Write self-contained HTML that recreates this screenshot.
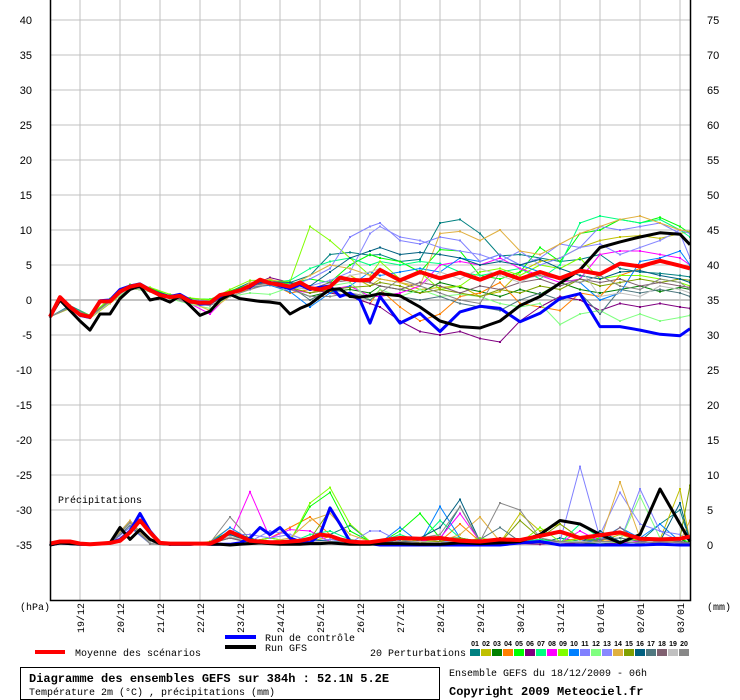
<!DOCTYPE html>
<html><head><meta charset="utf-8"><style>
body{margin:0;background:#fff;width:740px;height:700px;overflow:hidden}
svg{display:block}
text{font-family:"Liberation Sans",sans-serif}
.m{font-family:"Liberation Mono",monospace}
</style></head><body>
<svg id="c" width="740" height="700" viewBox="0 0 740 700" xmlns="http://www.w3.org/2000/svg">
<g id="grid"></g>
<g id="series"></g>
<g id="axes"></g>
<text x="58" y="503" font-size="10" class="m">Précipitations</text>
<text x="20" y="610" font-size="10" class="m">(hPa)</text>
<text x="707" y="610" font-size="10" class="m">(mm)</text>
<g>
<line x1="35" y1="652" x2="65" y2="652" stroke="#f00" stroke-width="4"/>
<text x="75" y="656" font-size="10" class="m">Moyenne des scénarios</text>
<line x1="225" y1="637" x2="256" y2="637" stroke="#00f" stroke-width="4"/>
<text x="265" y="641" font-size="10" class="m">Run de contrôle</text>
<line x1="225" y1="647" x2="256" y2="647" stroke="#000" stroke-width="4"/>
<text x="265" y="651" font-size="10" class="m">Run GFS</text>
<text x="370" y="656" font-size="10" class="m">20 Perturbations</text>
<g id="sw"></g>
</g>
<rect x="20.5" y="667.5" width="419" height="32" fill="none" stroke="#000"/>
<text x="29" y="682" font-size="12" font-weight="bold" class="m">Diagramme des ensembles GEFS sur 384h : 52.1N 5.2E</text>
<text x="29" y="695" font-size="10" class="m">Température 2m (°C) , précipitations (mm)</text>
<text x="449" y="676" font-size="10" class="m">Ensemble GEFS du 18/12/2009 - 06h</text>
<text x="449" y="695" font-size="12" font-weight="bold" class="m">Copyright 2009 Meteociel.fr</text>
</svg>
<script>
const hours=[];for(let h=0;h<=192;h+=6)hours.push(h);for(let h=198;h<=378;h+=12)hours.push(h);hours.push(384);
const pertHours=[];for(let h=0;h<=192;h+=12)pertHours.push(h);for(let h=198;h<=378;h+=12)pertHours.push(h);pertHours.push(384);
const dateLabels=["19/12","20/12","21/12","22/12","23/12","24/12","25/12","26/12","27/12","28/12","29/12","30/12","31/12","01/01","02/01","03/01"];
const leftTicks=[40,35,30,25,20,15,10,5,0,-5,-10,-15,-20,-25,-30,-35];
const rightTicks=[75,70,65,60,55,50,45,40,35,30,25,20,15,10,5,0];
const meanT=[-2.4,0.4,-1,-2.1,-2.4,-0.2,-0.2,1.2,1.9,2.2,1.4,0.7,0.4,0.6,-0.2,-0.4,-0.4,0.7,1.0,1.4,2.0,2.9,2.4,2.2,1.9,2.5,1.7,1.5,1.9,3.2,2.9,2.8,2.9,4.3,2.8,4.0,3.1,3.9,2.9,4.0,3.0,4.0,3.1,4.2,3.7,5.2,4.8,5.6,4.9,4.5];
const gfsT=[-2.4,0,-1.5,-3,-4.3,-2,-2,0.2,1.5,2,0,0.3,-0.3,0.6,-0.8,-2.2,-1.6,0,0.8,0.2,0,-0.2,-0.3,-0.5,-2,-1.2,-0.6,0.5,1.5,1.6,0.5,0.4,0.6,0.9,0.6,-1,-3.0,-3.8,-4.0,-3.0,-0.8,0.5,2.4,4.3,7.5,8.3,9.0,9.6,9.4,7.9];
const ctrlT=[-2.4,0.3,-1,-2.2,-2.5,-0.1,0,1.5,2.0,2.3,1.5,0.8,0.5,0.8,0,-0.6,-0.5,0.5,1.0,1.5,1.8,2.8,2.5,2.0,1.6,2.2,1.5,1.8,2.0,0.5,1.0,0,-3.3,0.5,-3.3,-1.9,-4.5,-1.7,-0.9,-1.2,-3.1,-1.9,0.2,0.9,-3.8,-3.8,-4.3,-4.9,-5.1,-4.1];
const meanP=[0.2,0.5,0.5,0.2,0.1,0.2,0.3,0.6,1.8,3.5,1.8,0.3,0.2,0.2,0.2,0.2,0.2,0.8,1.9,1.3,0.6,0.5,0.4,0.4,0.5,0.6,0.9,1.5,1.3,0.8,0.5,0.4,0.4,0.6,1.0,0.9,1.0,0.6,0.5,0.8,0.7,1.3,1.9,1.0,1.4,1.8,0.9,0.8,0.9,1.2];
const gfsP=[0,0.3,0.2,0.1,0.1,0.2,0.3,2.5,0.8,2.2,0.8,0.2,0.1,0.1,0.1,0.2,0.1,0.1,0,0.1,0.2,0.3,0.2,0.1,0.1,0.1,0.2,0.2,0.3,0.2,0.1,0.1,0.1,0.2,0.2,0.1,0.1,0.3,0.2,0.3,0.5,1.5,3.5,3.0,1.5,0.3,1.5,8.0,3.0,0.5];
const ctrlP=[0,0.3,0.2,0.1,0.1,0.2,0.3,0.8,2.0,4.5,2.0,0.3,0.1,0.1,0.1,0.2,0.1,0.1,0.1,0.3,1.0,2.5,1.5,2.5,1.0,0.5,0.3,1.5,5.3,3.0,0.5,0.2,0.2,0,0,0,0,0,0,0,0.3,0.5,0,0,0,0,0,0.1,0,0];
const pertColors=["#008080","#c0c000","#008000","#ff8000","#00ff00","#800080","#00ff80","#ff00ff","#80ff00","#0080ff","#8080ff","#80ff80","#8888ff","#e0b040","#80a000","#006080","#507880","#806070","#c0c0c0","#888888"];
const pertT=[
[-2.4,-0.8,-2.2,0,2.2,1.6,0.5,0,-0.2,1.2,2.5,2.8,2.5,3.5,6.5,6.8,6.4,6.5,5.5,5.8,11,11.5,9.5,6.3,6.5,6,5.5,5.8,6.5,4.5,4,3.8,3.5,3.3],
[-2.4,-1.2,-2.6,-0.5,1.7,1.2,0.2,-0.5,-0.6,0.8,1.8,2.2,1.6,1.0,2.0,3.5,2.0,3.0,2.5,1.5,1.8,2.0,0.5,1.2,4.0,5.5,6,7.5,8.5,9.0,9.2,8.8,9.5,9.8],
[-2.4,-1,-2.5,-0.3,1.8,1.3,0.3,-0.3,-0.5,0.9,1.9,2.3,1.6,0.5,1.2,1.5,1.0,2.0,1.5,1.0,2.5,1.8,1.2,0.5,1.5,0.8,2.5,1.5,1.0,1.5,2.0,1.2,1.8,1.5],
[-2.4,-1,-2.3,-0.1,1.9,1.3,0.5,-0.1,-0.5,0.8,1.5,2.4,1.0,1.5,1.2,0.5,-0.5,1.5,-1.0,-3.0,-2.0,0.5,1.0,2.5,-0.5,-1.0,-1.5,1.0,0.5,3.5,4.5,5.5,5.0,4.8],
[-2.4,-0.9,-2.2,0.1,2.2,1.7,0.6,0.2,0.1,1.3,2.2,2.6,2.3,3.0,2.5,5.0,6.5,6.0,5.5,4.0,7.2,7.0,3.5,3.0,4.0,7.5,5.5,9.5,10,11.5,11,11.8,10.5,9.5],
[-2.4,-1.1,-2.4,-0.3,1.7,1.2,0.2,-0.4,-0.5,1.0,2.0,3.2,2.5,1.5,1.0,0.5,-0.5,-1.0,-3.0,-4.5,-5.0,-4.5,-5.5,-6.0,-3.0,-1.0,0.5,0.0,-1.5,-0.5,-1.0,-0.5,-1.0,-1.2],
[-2.4,-1,-2.3,0,2.0,1.5,0.4,-0.1,-0.2,1.1,2.2,2.5,2.8,4.5,5.5,6.0,5.0,5.5,5.0,5.5,5.2,4.0,3.5,4.0,4.5,3.0,5.0,11.0,12.0,11.5,11.0,11.5,10.0,9.0],
[-2.4,-1,-2.4,-0.2,1.9,1.4,0.4,-0.5,-2.0,0.9,2.2,2.5,1.5,1.0,1.5,2.0,0.5,0.5,1.0,2.0,5.0,5.5,5.0,6.0,4.5,3.5,2.5,3.0,6.5,7.0,7.0,6.5,6.0,5.0],
[-2.4,-1,-2.2,0.2,2.2,1.8,0.8,0.3,0.0,1.5,2.8,2.8,2.6,10.5,8.5,6.0,3.5,5.5,3.0,4.0,1.5,2.0,4.0,4.5,3.5,5.0,4.5,6.0,3.0,3.5,3.5,3.0,2.5,2.0],
[-2.4,-0.9,-2.3,-0.1,2.1,1.5,0.5,-0.1,-0.3,1.0,1.8,2.1,1.2,-1.0,1.0,2.0,4.0,3.5,4.0,4.5,4.0,6.0,5.5,6.5,5.0,4.0,3.0,2.5,0.0,1.0,5.5,6.0,7.0,5.0],
[-2.4,-1,-2.4,-0.2,1.9,1.4,0.4,-0.2,-0.4,1.0,2.0,2.4,2.0,3.0,4.5,9.0,10.5,11.0,8.5,8.0,9.0,8.5,5.5,6.5,5.0,6.0,8.0,7.5,10.5,10.0,10.5,11.0,9.5,6.0],
[-2.4,-1.1,-2.5,-0.4,1.7,1.2,0.2,-0.6,-1.2,0.5,1.0,0.8,1.8,1.5,2.0,2.5,0.0,1.5,0.5,1.5,0.5,0.8,0.5,-0.5,-1.0,-0.5,-3.5,-2.0,-1.5,-3.0,-2.0,-3.0,-2.5,-2.2],
[-2.4,-1,-2.3,-0.1,2.0,1.5,0.5,0.0,-0.2,1.1,2.1,2.4,2.2,2.0,2.8,4.0,9.5,10.5,9.0,8.5,7.5,7.0,6.5,5.5,7.0,5.0,6.0,7.5,8.0,6.5,7.5,8.5,10.0,9.5],
[-2.4,-1,-2.4,-0.2,1.8,1.3,0.3,-0.3,-1.5,0.5,2.5,3.0,2.0,3.5,5.0,4.5,3.5,3.0,2.5,2.0,9.5,9.8,8.5,10.0,7.0,6.5,8.0,9.5,10.5,11.5,12.0,11.0,10.0,9.8],
[-2.4,-1,-2.3,-0.1,2.0,1.4,0.5,-0.1,-0.3,1.0,2.0,2.3,1.8,1.0,1.5,1.8,2.0,2.5,2.0,1.0,1.5,1.0,0.5,1.5,1.0,2.0,1.5,3.0,2.0,2.5,3.0,2.5,3.0,2.8],
[-2.4,-1,-2.4,-0.2,2.0,1.5,0.6,0.0,-0.4,1.0,2.2,2.6,2.5,2.0,4.0,6.0,7.0,7.5,6.5,6.8,6.5,6.0,5.0,5.5,5.0,5.8,4.5,3.5,3.0,4.0,4.2,3.5,3.0,2.5],
[-2.4,-1,-2.4,-0.3,1.9,1.3,0.4,-0.2,-0.4,0.8,1.8,2.2,2.0,0.0,1.5,1.0,0.0,1.0,0.5,0.0,0.5,-0.5,-1.0,-1.5,0.0,1.0,0.0,1.0,-2.0,1.5,1.0,1.5,1.0,0.5],
[-2.4,-1,-2.4,-0.2,1.9,1.4,0.4,-0.2,-0.4,1.0,2.0,2.5,1.9,1.5,2.5,2.8,2.5,2.0,1.5,2.5,2.0,1.0,2.0,1.5,2.5,3.0,2.0,3.0,2.5,3.0,2.0,2.5,2.0,1.8],
[-2.4,-1,-2.5,-0.3,1.8,1.3,0.3,-0.3,-0.5,0.9,1.9,2.3,1.8,1.5,2.0,3.5,4.0,4.5,3.0,2.0,4.0,3.0,4.5,3.5,2.5,4.0,3.0,4.5,0.5,1.0,0.5,2.0,1.5,1.0],
[-2.4,-1,-2.4,-0.2,1.9,1.4,0.4,-0.4,-0.8,0.5,1.5,2.3,1.5,0.5,0.5,1.0,0.5,1.0,3.0,2.0,1.0,0.0,-0.5,4.0,3.0,3.5,3.0,2.5,3.5,2.0,1.5,3.0,2.5,1.5]];
const pertP=[
[0,0.3,0.1,0.3,2.5,0.3,0,0.1,0.3,1.5,0.5,0.3,0.5,1.0,1.5,2.8,0.5,0.3,1.0,0.5,0.8,5.5,0.3,1,0.5,0.3,1.0,0.5,0.3,0.2,0.5,3.0,5.0,0.5],
[0,0.2,0.1,0.2,3.0,0.2,0,0.1,0.5,2.5,0.8,0.3,0.2,0.5,1.2,0.5,0.2,0.3,0.8,0.2,0.3,1.0,0.5,0.3,4.5,2.0,3.0,1.0,0.5,1.5,0.5,0.8,8.0,0.5],
[0,0.3,0.1,0.3,3.2,0.3,0,0.1,0.4,2.0,1.0,0.2,0.5,0.3,0.8,0.5,0.3,0.5,0.3,0.5,1.0,1.0,0.5,0.3,0.5,0.8,0.5,0.3,0.2,0.5,0.3,0.5,0.8,0.3],
[0,0.2,0.1,0.2,3.5,0.2,0,0.1,0.3,1.0,0.5,1.0,2.5,4.0,1.5,0.5,0.3,0.2,0.5,0.3,0.5,3.0,0.5,0.3,0.3,0.3,0.5,1.0,0.8,0.5,0.3,0.5,0.3,0.2],
[0,0.3,0.1,0.3,3.0,0.3,0,0.1,0.3,1.5,0.5,1.0,0.5,5.5,7.5,2.0,0.5,0.3,2.0,4.5,1.0,0.5,0.3,0.3,0.5,0.5,0.3,0.5,1.0,0.5,0.3,0.5,1.0,0.3],
[0,0.2,0.1,0.2,2.8,0.2,0,0.1,0.2,1.0,0.3,0.2,0.3,0.5,0.3,0.2,0.1,0.1,0.2,0.1,0.3,0.2,0.1,0.1,0.2,0.1,0.3,0.2,0.1,0.3,0.5,0.2,0.1,0.1],
[0,0.3,0.1,0.3,3.2,0.3,0,0.1,0.3,1.8,0.5,0.5,0.3,1.5,2.0,0.8,0.3,0.5,1.5,0.5,3.5,1.0,0.5,0.3,0.5,0.8,0.3,3.0,1.0,0.5,0.3,0.5,0.5,0.3],
[0,0.2,0.1,0.2,3.0,0.2,0,0.1,0.3,1.0,7.6,1.0,2.2,2.0,0.5,0.3,0.2,0.2,0.3,0.5,1.0,4.5,0.5,0.3,0.3,0.5,0.3,2.0,0.5,0.3,0.5,0.3,0.5,0.2],
[0,0.3,0.1,0.3,3.0,0.3,0,0.1,0.2,1.5,0.5,1.0,0.5,6.0,8.2,3.0,0.5,0.3,1.0,0.5,0.5,0.3,1.0,0.5,0.3,2.5,0.5,0.8,0.5,0.3,1.0,0.5,0.3,0.5],
[0,0.3,0.1,0.3,3.5,0.3,0,0.1,0.3,2.5,0.8,0.5,0.5,0.8,1.5,0.5,0.3,0.3,2.5,0.3,5.5,1.0,0.3,0.5,0.3,0.3,0.5,0.3,0.8,2.5,1.0,3.0,0.5,0.3],
[0,0.2,0.1,0.2,2.5,0.2,0,0.1,0.3,1.5,1.5,1.0,1.5,0.5,0.8,0.3,2.0,2.0,0.5,0.3,0.5,1.0,0.3,0.5,0.3,0.5,0.5,11.2,1.0,0.5,8.0,2.0,1.5,0.5],
[0,0.3,0.1,0.3,2.8,0.3,0,0.1,0.2,1.0,0.5,0.3,0.5,0.5,0.3,0.5,0.3,0.2,0.5,0.3,0.5,0.5,0.3,0.3,0.5,0.3,0.5,0.5,0.3,0.5,7.0,1.0,0.5,0.3],
[0,0.2,0.1,0.2,3.2,0.2,0,0.1,0.3,1.5,0.5,2.0,1.5,0.5,0.8,0.3,0.5,0.5,0.3,0.5,0.3,1.0,0.5,0.3,0.5,0.5,0.3,0.5,1.5,7.5,3.0,2.0,0.5,0.3],
[0,0.3,0.1,0.3,3.5,0.3,0,0.1,0.3,1.2,0.5,0.5,1.0,3.5,4.5,1.5,0.5,0.3,0.5,0.8,0.5,1.5,4.0,0.5,0.5,0.3,0.5,0.3,0.5,9.0,1.0,0.5,0.5,3.5],
[0,0.2,0.1,0.2,3.0,0.2,0,0.1,0.3,1.8,0.5,0.3,0.5,0.8,5.0,0.5,0.3,0.3,0.5,0.3,0.5,1.0,0.5,0.3,3.5,1.0,3.0,1.0,0.5,0.5,0.3,0.5,1.0,8.5],
[0,0.3,0.1,0.3,3.0,0.3,0,0.1,0.3,1.5,0.5,0.5,0.3,0.8,0.5,0.5,0.3,0.2,0.8,1.0,2.5,6.5,0.5,1.0,0.5,0.3,0.5,0.3,2.0,0.5,0.3,0.5,6.0,0.5],
[0,0.2,0.1,0.2,2.8,0.2,0,0.1,0.3,1.0,0.5,0.3,0.5,0.5,0.3,0.5,0.3,0.3,0.5,0.5,0.3,0.5,0.8,2.5,0.5,0.5,0.3,0.5,0.8,1.0,0.5,0.3,0.5,0.3],
[0,0.3,0.1,0.3,3.0,0.3,0,0.1,0.2,1.0,0.3,0.3,0.5,0.5,0.3,0.5,0.2,0.2,0.3,0.5,0.3,0.3,0.5,0.3,0.5,0.3,0.5,0.3,0.5,2.5,0.5,0.3,0.5,0.2],
[0,0.3,0.1,0.3,3.0,0.3,0,0.1,0.3,1.2,0.5,0.3,0.5,0.5,0.5,0.3,0.3,0.2,0.3,0.5,0.3,0.5,0.3,0.5,0.3,0.5,0.3,0.5,0.3,0.5,0.3,0.5,0.3,0.2],
[0,0.2,0.1,0.2,3.2,0.2,0,0.1,0.3,4.0,0.8,0.5,0.3,0.8,1.5,0.5,0.3,0.3,0.5,1.0,1.5,5.5,0.5,6.0,5.0,1.0,0.5,0.3,0.5,0.5,0.3,0.5,0.3,0.2]];
const NS="http://www.w3.org/2000/svg";
const X=h=>50+h*640/384;
const YT=v=>20+(40-v)*7;
const YP=p=>545-7*p;
function mk(tag,attrs,parent){const e=document.createElementNS(NS,tag);for(const k in attrs)e.setAttribute(k,attrs[k]);parent.appendChild(e);return e;}
const grid=document.getElementById('grid'),axes=document.getElementById('axes'),ser=document.getElementById('series');
leftTicks.forEach((v,i)=>{
 const y=YT(v);
 const l=mk('line',{x1:50,x2:690,y1:y,y2:y,stroke:v===0?'#888':'#c0c0c0','stroke-width':1},grid);
 
 
 const t=mk('text',{x:32,y:y+4,'font-size':11,'text-anchor':'end'},axes);t.textContent=v;
 
 
 const r=mk('text',{x:707,y:y+4,'font-size':11},axes);r.textContent=rightTicks[i];
 
 
});
dateLabels.forEach((d,i)=>{
 const x=X(24*(i+1)-6);
 const l=mk('line',{x1:x,x2:x,y1:0,y2:600,stroke:'#c0c0c0','stroke-width':1},grid);
 
 
 const t=mk('text',{x:0,y:0,'font-size':10,'text-anchor':'end',class:'m',transform:`translate(${x+4},603) rotate(-90)`},axes);t.textContent=d;
 
 
});
const ax1=mk('polyline',{points:'50.5,0 50.5,600.5 690.5,600.5 690.5,0',fill:'none',stroke:'#000','stroke-width':1.5},axes);


function line(hs,vals,yf,color,w,name,dots){
 const n=Math.min(hs.length,vals.length);const pts=[];
 for(let i=0;i<n;i++)pts.push(X(hs[i]).toFixed(1)+','+yf(vals[i]).toFixed(1));
 const p=mk('polyline',{points:pts.join(' '),fill:'none',stroke:color,'stroke-width':w,'stroke-linejoin':'round'},ser);
 
 
 if(dots){for(let i=0;i<n;i++){const c=mk('rect',{x:X(hs[i])-1,y:yf(vals[i])-1,width:2,height:2,fill:color},ser);
 
 }}
}
pertT.forEach((s,k)=>line(pertHours,s,YT,pertColors[k],1,'perturbation-'+(k+1)+'-temp',true));
pertP.forEach((s,k)=>line(pertHours,s,YP,pertColors[k],1,'perturbation-'+(k+1)+'-precip',true));
line(hours,ctrlT,YT,'#0000ff',3,'control-run-temp');
line(hours,gfsT,YT,'#000',3,'gfs-run-temp');
line(hours,ctrlP,YP,'#0000ff',3,'control-run-precip');
line(hours,gfsP,YP,'#000',3,'gfs-run-precip');
line(hours,meanT,YT,'#ff0000',4,'mean-temp');
line(hours,meanP,YP,'#ff0000',4,'mean-precip');
const sw=document.getElementById('sw');
pertColors.forEach((c,k)=>{
 const x=470+k*11;
 const r=mk('rect',{x:x,y:649,width:10,height:7,fill:c},sw);
 
 
 const t=mk('text',{x:x+5,y:646,'font-size':7,'text-anchor':'middle','font-weight':'bold'},sw);t.textContent=String(k+1).padStart(2,'0');
 
 
});
</script>
</body></html>
